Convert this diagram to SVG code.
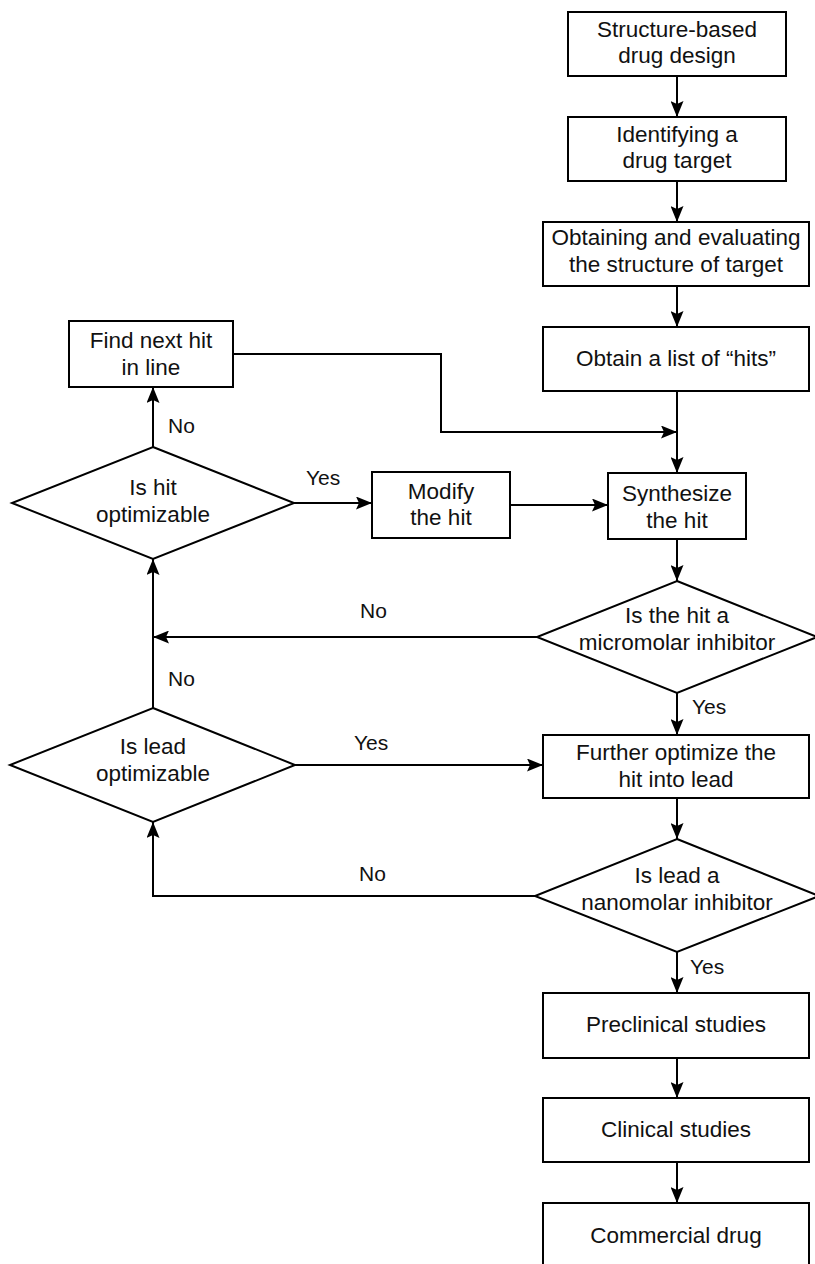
<svg xmlns="http://www.w3.org/2000/svg" width="815" height="1264" viewBox="0 0 815 1264">
<style>
.shape{fill:#fff;stroke:#000;stroke-width:2}
.t{font-family:"Liberation Sans",Arial,sans-serif;font-size:22.5px;fill:#111;text-anchor:middle}
.lbl{font-family:"Liberation Sans",Arial,sans-serif;font-size:21px;fill:#111}
.c{fill:none;stroke:#000;stroke-width:2}
</style>
<defs>
<marker id="ah" markerUnits="userSpaceOnUse" markerWidth="16" markerHeight="13" viewBox="0 0 16 13" refX="16" refY="6.5" orient="auto">
<path d="M0,0 L16,6.5 L0,13 L3,6.5 Z" fill="#000"/>
</marker>
</defs>
<rect width="815" height="1264" fill="#fff"/>
<g id="connectors">
<path class="c" d="M677,76 V117" marker-end="url(#ah)"/>
<path class="c" d="M677,181 V222" marker-end="url(#ah)"/>
<path class="c" d="M677,286 V327" marker-end="url(#ah)"/>
<path class="c" d="M677,391 V473" marker-end="url(#ah)"/>
<path class="c" d="M233,354 H441 V432 H677" marker-end="url(#ah)"/>
<path class="c" d="M677,539 V581" marker-end="url(#ah)"/>
<path class="c" d="M510,505 H608" marker-end="url(#ah)"/>
<path class="c" d="M294,503 H372" marker-end="url(#ah)"/>
<path class="c" d="M153,447 V387" marker-end="url(#ah)"/>
<path class="c" d="M537,637 H153" marker-end="url(#ah)"/>
<path class="c" d="M153,708 V559" marker-end="url(#ah)"/>
<path class="c" d="M677,693 V735" marker-end="url(#ah)"/>
<path class="c" d="M295,765 H543" marker-end="url(#ah)"/>
<path class="c" d="M677,798 V839" marker-end="url(#ah)"/>
<path class="c" d="M535,896 H153 V822" marker-end="url(#ah)"/>
<path class="c" d="M677,952 V993" marker-end="url(#ah)"/>
<path class="c" d="M677,1058 V1098" marker-end="url(#ah)"/>
<path class="c" d="M677,1162 V1203" marker-end="url(#ah)"/>
<text class="lbl" x="168" y="433">No</text>
<text class="lbl" x="306" y="485">Yes</text>
<text class="lbl" x="360" y="618">No</text>
<text class="lbl" x="168" y="686">No</text>
<text class="lbl" x="692" y="714">Yes</text>
<text class="lbl" x="354" y="750">Yes</text>
<text class="lbl" x="359" y="881">No</text>
<text class="lbl" x="690" y="974">Yes</text>
</g>
<g id="n-sbdd">
<rect class="shape" x="568" y="12" width="218" height="64"/>
<text class="t" x="677" y="37">Structure-based</text>
<text class="t" x="677" y="63">drug design</text>
</g>
<g id="n-target">
<rect class="shape" x="568" y="117" width="218" height="64"/>
<text class="t" x="677" y="142">Identifying a</text>
<text class="t" x="677" y="168">drug target</text>
</g>
<g id="n-structure">
<rect class="shape" x="543" y="222" width="266" height="64"/>
<text class="t" x="676" y="245">Obtaining and evaluating</text>
<text class="t" x="676" y="272">the structure of target</text>
</g>
<g id="n-hits">
<rect class="shape" x="543" y="327" width="266" height="64"/>
<text class="t" x="676" y="366">Obtain a list of “hits”</text>
</g>
<g id="n-findnext">
<rect class="shape" x="69" y="321" width="164" height="66"/>
<text class="t" x="151" y="348">Find next hit</text>
<text class="t" x="151" y="375">in line</text>
</g>
<g id="n-modify">
<rect class="shape" x="372" y="472" width="138" height="66"/>
<text class="t" x="441" y="499">Modify</text>
<text class="t" x="441" y="525">the hit</text>
</g>
<g id="n-synth">
<rect class="shape" x="608" y="473" width="138" height="66"/>
<text class="t" x="677" y="501">Synthesize</text>
<text class="t" x="677" y="528">the hit</text>
</g>
<g id="n-hitopt">
<polygon class="shape" points="153,447 294,503 153,559 12,503"/>
<text class="t" x="153" y="495">Is hit</text>
<text class="t" x="153" y="522">optimizable</text>
</g>
<g id="n-micro">
<polygon class="shape" points="677,581 817,637 677,693 537,637"/>
<text class="t" x="677" y="623">Is the hit a</text>
<text class="t" x="677" y="650">micromolar inhibitor</text>
</g>
<g id="n-leadopt">
<polygon class="shape" points="153,708 295,765 153,822 10,765"/>
<text class="t" x="153" y="754">Is lead</text>
<text class="t" x="153" y="781">optimizable</text>
</g>
<g id="n-further">
<rect class="shape" x="543" y="735" width="266" height="63"/>
<text class="t" x="676" y="760">Further optimize the</text>
<text class="t" x="676" y="787">hit into lead</text>
</g>
<g id="n-nano">
<polygon class="shape" points="677,839 819,896 677,952 535,896"/>
<text class="t" x="677" y="883">Is lead a</text>
<text class="t" x="677" y="910">nanomolar inhibitor</text>
</g>
<g id="n-preclinical">
<rect class="shape" x="543" y="993" width="266" height="65"/>
<text class="t" x="676" y="1032">Preclinical studies</text>
</g>
<g id="n-clinical">
<rect class="shape" x="543" y="1098" width="266" height="64"/>
<text class="t" x="676" y="1137">Clinical studies</text>
</g>
<g id="n-commercial">
<rect class="shape" x="543" y="1203" width="266" height="70"/>
<text class="t" x="676" y="1243">Commercial drug</text>
</g>
</svg>
